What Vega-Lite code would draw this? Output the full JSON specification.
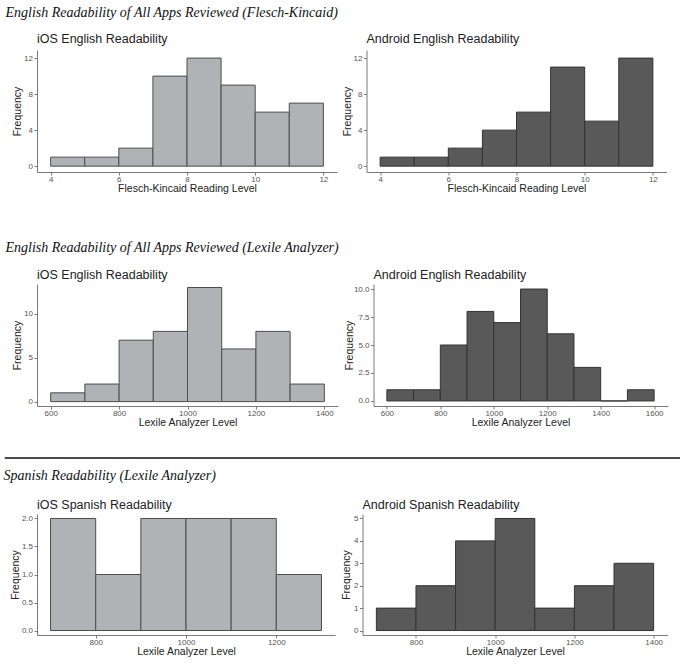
{
  "$schema": "https://vega.github.io/schema/vega-lite/v6.json",
  "padding": {"left": 3, "top": 5, "right": 0, "bottom": 0},
  "background": "white",
  "config": {
    "view": {"stroke": null},
    "font": "Liberation Sans",
    "axis": {"domainColor": "#7a7a7a", "tickColor": "#7a7a7a", "labelColor": "#555555", "labelFontSize": 8, "titleFontSize": 10.5, "titleFontWeight": "normal", "titleColor": "#222222", "grid": false, "tickSize": 3, "labelPadding": 1.5},
    "axisX": {"titlePadding": 0, "labelPadding": 0.5, "format": "d"},
    "axisY": {"minExtent": 0, "maxExtent": 0},
    "title": {"fontSize": 12.5, "fontWeight": "normal", "anchor": "start", "frame": "group", "color": "#222222", "baseline": "alphabetic", "offset": 5}
  },
  "datasets": {
    "fk_ios": [
      {"start": 4, "end": 5, "count": 1}, {"start": 5, "end": 6, "count": 1}, {"start": 6, "end": 7, "count": 2}, {"start": 7, "end": 8, "count": 10},
      {"start": 8, "end": 9, "count": 12}, {"start": 9, "end": 10, "count": 9}, {"start": 10, "end": 11, "count": 6}, {"start": 11, "end": 12, "count": 7}
    ],
    "fk_android": [
      {"start": 4, "end": 5, "count": 1}, {"start": 5, "end": 6, "count": 1}, {"start": 6, "end": 7, "count": 2}, {"start": 7, "end": 8, "count": 4},
      {"start": 8, "end": 9, "count": 6}, {"start": 9, "end": 10, "count": 11}, {"start": 10, "end": 11, "count": 5}, {"start": 11, "end": 12, "count": 12}
    ],
    "lx_ios": [
      {"start": 600, "end": 700, "count": 1}, {"start": 700, "end": 800, "count": 2}, {"start": 800, "end": 900, "count": 7}, {"start": 900, "end": 1000, "count": 8},
      {"start": 1000, "end": 1100, "count": 13}, {"start": 1100, "end": 1200, "count": 6}, {"start": 1200, "end": 1300, "count": 8}, {"start": 1300, "end": 1400, "count": 2}
    ],
    "lx_android": [
      {"start": 600, "end": 700, "count": 1}, {"start": 700, "end": 800, "count": 1}, {"start": 800, "end": 900, "count": 5}, {"start": 900, "end": 1000, "count": 8},
      {"start": 1000, "end": 1100, "count": 7}, {"start": 1100, "end": 1200, "count": 10}, {"start": 1200, "end": 1300, "count": 6}, {"start": 1300, "end": 1400, "count": 3},
      {"start": 1400, "end": 1500, "count": 0}, {"start": 1500, "end": 1600, "count": 1}
    ],
    "es_ios": [
      {"start": 700, "end": 800, "count": 2}, {"start": 800, "end": 900, "count": 1}, {"start": 900, "end": 1000, "count": 2},
      {"start": 1000, "end": 1100, "count": 2}, {"start": 1100, "end": 1200, "count": 2}, {"start": 1200, "end": 1300, "count": 1}
    ],
    "es_android": [
      {"start": 700, "end": 800, "count": 1}, {"start": 800, "end": 900, "count": 2}, {"start": 900, "end": 1000, "count": 4},
      {"start": 1000, "end": 1100, "count": 5}, {"start": 1100, "end": 1200, "count": 1}, {"start": 1200, "end": 1300, "count": 2}, {"start": 1300, "end": 1400, "count": 3}
    ],
    "sep": [{"v": 0}]
  },
  "spacing": 10,
  "vconcat": [
    {
      "spacing": 46,
      "vconcat": [
        {
          "title": {"text": "English Readability of All Apps Reviewed (Flesch-Kincaid)", "font": "Liberation Serif", "fontStyle": "italic", "fontSize": 14, "color": "#111111", "anchor": "start", "frame": "bounds", "baseline": "top", "offset": 13, "dx": -6.5},
          "spacing": 5.5,
          "hconcat": [
            {
              "title": {"text": "iOS English Readability", "offset": 5},
              "width": 300, "height": 122,
              "data": {"name": "fk_ios"},
              "mark": {"type": "bar", "fill": "#b1b2b6", "stroke": "#4d4d4d", "strokeWidth": 1},
              "encoding": {
                "x": {"field": "start", "type": "quantitative", "scale": {"domain": [3.6, 12.4], "nice": false, "zero": false}, "axis": {"values": [4, 6, 8, 10, 12], "title": "Flesch-Kincaid Reading Level"}},
                "x2": {"field": "end"},
                "y": {"field": "count", "type": "quantitative", "scale": {"domain": [-0.65, 12.9], "nice": false, "zero": false}, "axis": {"values": [0, 4, 8, 12], "title": "Frequency", "titlePadding": 15}},
                "y2": {"datum": 0}
              }
            },
            {
              "title": {"text": "Android English Readability", "offset": 5},
              "width": 300, "height": 122,
              "data": {"name": "fk_android"},
              "mark": {"type": "bar", "fill": "#595959", "stroke": "#333333", "strokeWidth": 1},
              "encoding": {
                "x": {"field": "start", "type": "quantitative", "scale": {"domain": [3.6, 12.4], "nice": false, "zero": false}, "axis": {"values": [4, 6, 8, 10, 12], "title": "Flesch-Kincaid Reading Level"}},
                "x2": {"field": "end"},
                "y": {"field": "count", "type": "quantitative", "scale": {"domain": [-0.65, 12.9], "nice": false, "zero": false}, "axis": {"values": [0, 4, 8, 12], "title": "Frequency", "titlePadding": 14}},
                "y2": {"datum": 0}
              }
            }
          ]
        },
        {
          "title": {"text": "English Readability of All Apps Reviewed (Lexile Analyzer)", "font": "Liberation Serif", "fontStyle": "italic", "fontSize": 14, "color": "#111111", "anchor": "start", "frame": "bounds", "baseline": "top", "offset": 14, "dx": -6.5},
          "spacing": 5.5,
          "hconcat": [
            {
              "title": {"text": "iOS English Readability", "offset": 3},
              "width": 301, "height": 122,
              "data": {"name": "lx_ios"},
              "mark": {"type": "bar", "fill": "#b1b2b6", "stroke": "#4d4d4d", "strokeWidth": 1},
              "encoding": {
                "x": {"field": "start", "type": "quantitative", "scale": {"domain": [560, 1440], "nice": false, "zero": false}, "axis": {"values": [600, 800, 1000, 1200, 1400], "title": "Lexile Analyzer Level"}},
                "x2": {"field": "end"},
                "y": {"field": "count", "type": "quantitative", "scale": {"domain": [-0.5, 13.4], "nice": false, "zero": false}, "axis": {"values": [0, 5, 10], "title": "Frequency", "titlePadding": 15}},
                "y2": {"datum": 0}
              }
            },
            {
              "title": {"text": "Android English Readability", "offset": 3},
              "width": 294, "height": 122,
              "data": {"name": "lx_android"},
              "mark": {"type": "bar", "fill": "#595959", "stroke": "#333333", "strokeWidth": 1},
              "encoding": {
                "x": {"field": "start", "type": "quantitative", "scale": {"domain": [550, 1650], "nice": false, "zero": false}, "axis": {"values": [600, 800, 1000, 1200, 1400, 1600], "title": "Lexile Analyzer Level"}},
                "x2": {"field": "end"},
                "y": {"field": "count", "type": "quantitative", "scale": {"domain": [-0.45, 10.45], "nice": false, "zero": false}, "axis": {"values": [0, 2.5, 5, 7.5, 10], "format": ".1f", "title": "Frequency", "titlePadding": 19.5}},
                "y2": {"datum": 0}
              }
            }
          ]
        }
      ]
    },
    {
      "width": 645, "height": 20,
      "data": {"name": "sep"},
      "mark": {"type": "rule", "color": "#111111", "strokeWidth": 1.5},
      "encoding": {
        "x": {"datum": -0.05, "type": "quantitative", "scale": {"domain": [0, 1], "nice": false, "zero": false}, "axis": null},
        "x2": {"datum": 1},
        "y": {"datum": 0, "type": "quantitative", "scale": {"domain": [0, 1]}, "axis": null}
      }
    },
    {
      "title": {"text": "Spanish Readability (Lexile Analyzer)", "font": "Liberation Serif", "fontStyle": "italic", "fontSize": 14, "color": "#111111", "anchor": "start", "frame": "bounds", "baseline": "top", "offset": 16, "dx": -6.5},
      "spacing": 5.5,
      "hconcat": [
        {
          "title": {"text": "iOS Spanish Readability", "offset": 2.5},
          "width": 298, "height": 121,
          "data": {"name": "es_ios"},
          "mark": {"type": "bar", "fill": "#b1b2b6", "stroke": "#4d4d4d", "strokeWidth": 1},
          "encoding": {
            "x": {"field": "start", "type": "quantitative", "scale": {"domain": [670, 1330], "nice": false, "zero": false}, "axis": {"values": [800, 1000, 1200], "title": "Lexile Analyzer Level"}},
            "x2": {"field": "end"},
            "y": {"field": "count", "type": "quantitative", "scale": {"domain": [-0.08, 2.08], "nice": false, "zero": false}, "axis": {"values": [0, 0.5, 1, 1.5, 2], "format": ".1f", "title": "Frequency", "titlePadding": 17}},
            "y2": {"datum": 0}
          }
        },
        {
          "title": {"text": "Android Spanish Readability", "offset": 2.5},
          "width": 305, "height": 121,
          "data": {"name": "es_android"},
          "mark": {"type": "bar", "fill": "#595959", "stroke": "#333333", "strokeWidth": 1},
          "encoding": {
            "x": {"field": "start", "type": "quantitative", "scale": {"domain": [665, 1435], "nice": false, "zero": false}, "axis": {"values": [800, 1000, 1200, 1400], "title": "Lexile Analyzer Level"}},
            "x2": {"field": "end"},
            "y": {"field": "count", "type": "quantitative", "scale": {"domain": [-0.2, 5.2], "nice": false, "zero": false}, "axis": {"values": [0, 1, 2, 3, 4, 5], "title": "Frequency", "titlePadding": 11.5}},
            "y2": {"datum": 0}
          }
        }
      ]
    }
  ]
}
